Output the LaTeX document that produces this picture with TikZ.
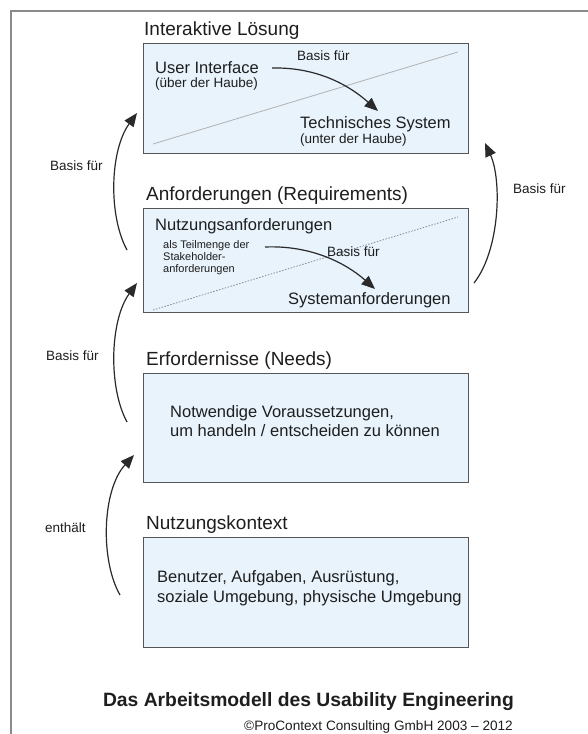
\documentclass[tikz,border=0pt]{standalone}
\usepackage{fontspec}
\setmainfont{Liberation Sans}
\usetikzlibrary{arrows.meta}
\definecolor{boxfill}{HTML}{E8F3FC}
\definecolor{boxline}{HTML}{555555}
\definecolor{framecol}{HTML}{8A8A8A}
\definecolor{txt}{HTML}{1E1E1E}
\definecolor{arr}{HTML}{2A2A2A}
\tikzset{
  box/.style={draw=boxline, line width=1.3pt, fill=boxfill, anchor=north west, inner sep=0pt},
  ttl/.style={anchor=base west, inner sep=0pt, text=txt, font=\fontsize{19}{22}\selectfont},
  big/.style={anchor=base west, inner sep=0pt, text=txt, font=\fontsize{16.5}{19}\selectfont},
  mid/.style={anchor=base west, inner sep=0pt, text=txt, font=\fontsize{13.5}{16}\selectfont},
  sml/.style={anchor=base west, inner sep=0pt, text=txt, font=\fontsize{11}{13}\selectfont},
  conn/.style={draw=arr, line width=1.2pt, -{Triangle[length=13.5pt,width=11pt]}},
  diag/.style={draw=black!30, line width=0.8pt},
}
\begin{document}
\begin{tikzpicture}[x=1pt,y=1pt]
\useasboundingbox (0,0) rectangle (588,-734);
\fill[white] (0,0) rectangle (588,-734);
% frame
\draw[framecol, line width=2pt] (11,-734) -- (11,-10.5) -- (588,-10.5);

% boxes
\node[box, minimum width=325pt, minimum height=110pt] (b1) at (143,-43) {};
\node[box, minimum width=325pt, minimum height=104pt] (b2) at (143,-208) {};
\node[box, minimum width=325pt, minimum height=109pt] (b3) at (143,-373) {};
\node[box, minimum width=325pt, minimum height=110pt] (b4) at (143,-537) {};

% titles
\node[ttl] (t1) at (144,-35) {Interaktive Lösung};
\node[ttl] (t2) at (146,-200) {Anforderungen (Requirements)};
\node[ttl] (t3) at (146,-365) {Erfordernisse (Needs)};
\node[ttl] (t4) at (146,-529) {Nutzungskontext};

% box 1 content
\coordinate (d1s) at (153,-144);
\coordinate (d1e) at (458,-52);
\draw[diag] (d1s) -- (d1e);
\node[big] (ui) at (155,-73) {User Interface};
\node[mid] (uih) at (155,-87) {(über der Haube)};
\node[mid] (bf1) at (297,-60) {Basis für};
\node[big] (ts) at (300,-128) {Technisches System};
\node[mid] (tsh) at (300,-143) {(unter der Haube)};
\coordinate (a1s) at (272,-68);
\coordinate (a1e) at (378,-111);
\draw[conn] (a1s) .. controls (318,-67) and (350,-86) .. (a1e);

% box 2 content
\coordinate (d2s) at (153,-310);
\coordinate (d2e) at (458,-217);
\draw[diag, draw=black!45, dash pattern=on 1.5pt off 1.5pt] (d2s) -- (d2e);
\node[big] (na) at (155,-230) {Nutzungsanforderungen};
\node[sml] (na1) at (163,-248) {als Teilmenge der};
\node[sml] (na2) at (163,-260) {Stakeholder-};
\node[sml] (na3) at (163,-272) {anforderungen};
\node[mid] (bf2) at (327,-256) {Basis für};
\node[big] (sa) at (288,-304) {Systemanforderungen};
\coordinate (a2s) at (265,-247);
\coordinate (a2e) at (375,-289);
\draw[conn] (a2s) .. controls (312,-245) and (347,-264) .. (a2e);

% box 3 content
\node[big] (nv1) at (170,-417) {Notwendige Voraussetzungen,};
\node[big] (nv2) at (170,-436) {um handeln / entscheiden zu können};

% box 4 content
\node[big] (bu1) at (157,-582) {Benutzer, Aufgaben, Ausrüstung,};
\node[big] (bu2) at (157,-602) {soziale Umgebung, physische Umgebung};

% outer arrows
\coordinate (l1s) at (127,-250);
\coordinate (l1e) at (137,-113);
\draw[conn] (l1s) .. controls (108,-215) and (110,-150) .. (l1e);
\node[mid] (lb1) at (50,-170) {Basis für};

\coordinate (l2s) at (127,-422);
\coordinate (l2e) at (137,-283);
\draw[conn] (l2s) .. controls (108,-387) and (110,-320) .. (l2e);
\node[mid] (lb2) at (46,-360) {Basis für};

\coordinate (l3s) at (120,-595);
\coordinate (l3e) at (134,-455);
\draw[conn] (l3s) .. controls (100,-560) and (102,-490) .. (l3e);
\node[mid] (lb3) at (45,-532) {enthält};

\coordinate (r1s) at (474,-283);
\coordinate (r1e) at (485,-143);
\draw[conn] (r1s) .. controls (500,-250) and (502,-180) .. (r1e);
\node[mid] (rb1) at (513,-193) {Basis für};

% footer
\node[anchor=base east, inner sep=0pt, text=txt, font=\bfseries\fontsize{19.3}{22}\selectfont] (ft) at (514,-706) {Das Arbeitsmodell des Usability Engineering};
\node[anchor=base east, inner sep=0pt, text=txt, font=\fontsize{13.6}{16}\selectfont] (cp) at (513,-730) {©ProContext Consulting GmbH 2003 – 2012};
\end{tikzpicture}
\end{document}
